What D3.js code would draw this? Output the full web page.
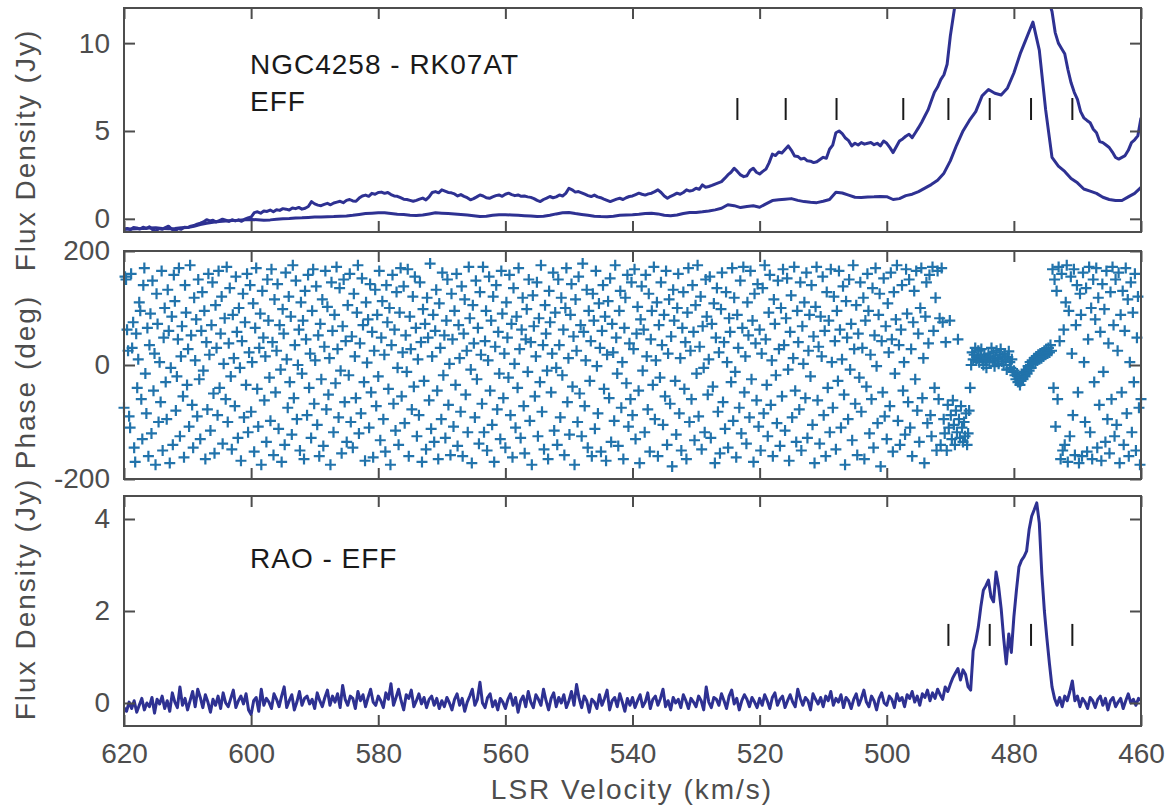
<!DOCTYPE html>
<html lang="en">
	<head>
		<meta charset="utf-8">
		<title>NGC4258 - RK07AT / RAO - EFF</title>
		<script src="https://d3js.org/d3.v7.min.js"></script>
		<style type="text/css">
			body {
				margin: 0;
				background-color: white;
			}
			svg {
				display: block;
				font-family: "Liberation Sans", Arial, Helvetica, sans-serif;
			}
		</style>
	</head>
	<body>
		<script type="text/javascript">

			//Velocity axis (km/s)
			var velTicks = [620, 600, 580, 560, 540, 520, 500, 480, 460];
			var fluxTicks = [0, 5, 10];
			var phaseTicks = [-200, 0, 200];
			var raoTicks = [0, 2, 4];

			//NGC4258 - RK07AT / EFF, upper spectrum, channels every 0.5 km/s from 620
			var upperStart = 620, upperStep = 0.5;
			var fluxUpper = [
				-0.60,-0.55,-0.62,-0.50,-0.52,-0.58,-0.48,-0.55,-0.45,-0.62,-0.70,-0.55,-0.60,-0.50,-0.42,-0.58,-0.72,-0.55,-0.60,-0.48,
				-0.50,-0.42,-0.38,-0.30,-0.25,-0.18,-0.05,-0.12,-0.08,-0.18,-0.10,-0.02,-0.08,-0.15,-0.05,-0.12,-0.06,-0.14,-0.02,0.05,
				0.10,0.35,0.40,0.32,0.45,0.42,0.50,0.40,0.52,0.48,0.58,0.55,0.50,0.62,0.58,0.65,0.55,0.60,0.70,0.98,
				0.85,0.78,0.75,0.82,0.88,0.80,0.90,0.95,1.00,0.92,1.05,1.10,1.02,1.00,1.18,1.30,1.35,1.28,1.45,1.40,
				1.50,1.52,1.45,1.50,1.38,1.30,1.28,1.20,1.12,1.10,1.05,1.00,1.05,1.12,1.18,1.08,1.25,1.50,1.55,1.48,
				1.65,1.58,1.50,1.48,1.42,1.30,1.38,1.28,1.20,1.08,1.15,1.25,1.36,1.30,1.20,1.17,1.25,1.32,1.36,1.28,
				1.40,1.46,1.38,1.32,1.36,1.28,1.30,1.25,1.22,1.15,1.05,0.98,1.10,1.18,1.27,1.20,1.25,1.36,1.30,1.45,
				1.74,1.65,1.52,1.55,1.48,1.40,1.32,1.27,1.35,1.25,1.20,1.12,1.05,0.98,1.05,1.12,1.17,1.10,1.20,1.27,
				1.30,1.38,1.46,1.40,1.35,1.42,1.46,1.55,1.65,1.50,1.30,1.17,1.28,1.36,1.46,1.40,1.50,1.65,1.58,1.62,
				1.74,1.68,1.93,1.80,1.84,1.90,1.98,2.05,2.12,2.30,2.50,2.65,2.88,2.70,2.50,2.40,2.45,2.75,2.88,2.65,
				2.55,2.70,2.83,3.20,3.68,3.60,3.80,3.75,3.95,4.15,3.90,3.58,3.55,3.40,3.45,3.30,3.28,3.20,3.25,3.38,
				3.50,3.45,3.96,4.20,4.90,5.00,4.85,4.60,4.45,4.15,4.30,4.20,4.34,4.25,4.30,4.34,4.22,4.30,4.15,4.43,
				4.30,4.05,3.77,4.10,4.43,4.55,4.70,4.81,4.62,4.90,5.19,5.50,5.85,6.20,6.70,7.20,7.50,7.92,8.20,8.80,
				10.4,11.6,12.8,14.5,16.5,18.5,20.5,22,24,26,28,30,31,32,33,34,35,36,38,40,
				42,44,45,44,40,34,27,22,18,15.5,13.5,12.4,11.8,10.6,10.0,9.7,9.4,8.5,7.74,7.2,
				6.80,6.10,5.75,5.60,5.47,5.10,4.90,4.40,4.34,4.20,4.06,3.80,3.49,3.40,3.50,3.60,3.90,4.34,4.50,4.72,
				5.75
			];

			//lower spectrum, channels every 1 km/s from 620
			var lowerStart = 620, lowerStep = 1;
			var fluxLower = [
				-0.60,-0.58,-0.57,-0.55,-0.52,-0.51,-0.55,-0.57,-0.55,-0.51,
				-0.50,-0.42,-0.32,-0.25,-0.19,-0.15,-0.13,-0.10,-0.08,-0.05,
				-0.04,-0.05,-0.08,-0.06,-0.03,0.00,0.02,0.05,0.06,0.08,
				0.10,0.11,0.12,0.13,0.15,0.16,0.20,0.25,0.30,0.32,
				0.34,0.34,0.30,0.26,0.24,0.20,0.19,0.22,0.28,0.34,
				0.32,0.30,0.28,0.25,0.22,0.18,0.13,0.15,0.20,0.23,
				0.23,0.22,0.20,0.18,0.16,0.13,0.15,0.20,0.28,0.34,
				0.36,0.30,0.25,0.20,0.15,0.13,0.12,0.15,0.20,0.22,
				0.23,0.26,0.30,0.32,0.28,0.20,0.17,0.22,0.30,0.36,
				0.36,0.40,0.45,0.51,0.60,0.80,0.75,0.64,0.70,0.74,
				0.66,0.85,1.04,1.08,1.12,1.15,1.05,0.98,0.94,0.92,
				1.00,1.10,1.51,1.47,1.35,1.23,1.22,1.24,1.25,1.27,
				1.26,1.10,1.15,1.32,1.40,1.55,1.75,1.95,2.20,2.60,
				3.30,4.20,5.00,5.60,6.10,7.00,7.36,7.15,7.05,7.45,
				8.30,9.40,10.30,11.20,9.60,6.20,3.50,3.00,2.70,2.30,
				2.05,1.70,1.58,1.45,1.23,1.10,1.04,1.04,1.25,1.45,
				1.79
			];

			//Phase (deg), channels every 0.16 km/s from 620
			var phaseStart = 620, phaseStep = 0.16;
			var phaseDeg = [
				-75,155,150,62,25,-90,-110,160,30,75,-145,-170,55,-40,10,110,95,-60,-130,140,170,-15,-85,65,-160,
				35,90,-120,148,-45,20,-175,125,72,-100,5,-65,165,-150,48,100,-30,-95,132,60,-172,-5,85,-140,158,
				112,-80,-20,45,170,-125,15,68,-55,-162,140,92,-35,28,-108,175,52,-70,-145,118,8,80,-90,150,-25,
				-130,60,128,-10,95,-165,40,-78,160,18,-115,70,145,-50,-155,105,30,-88,165,-40,55,120,-138,2,82,
				-60,172,-100,38,135,-20,-148,88,12,-72,155,58,-128,100,-5,-168,42,125,-92,75,-35,160,-118,22,140,
				-82,5,108,-152,65,170,-42,-108,30,90,-175,130,48,-62,15,-135,150,78,-22,-98,168,40,-158,115,-48,
				25,142,-112,70,-8,-170,98,55,-140,162,10,-75,120,-30,85,-122,175,-58,35,148,-95,0,62,-150,110,
				-15,78,-165,130,45,-88,158,-40,20,-128,95,168,-68,8,138,-105,52,-160,72,-25,115,-142,32,165,-78,
				102,-52,12,-175,145,60,-118,88,-32,172,28,-92,135,-10,-155,68,150,-65,42,-135,105,-18,160,-100,50,
				-145,125,15,-58,92,175,-120,38,-85,152,70,-30,-168,110,4,80,-110,142,-48,58,-162,25,132,-72,88,
				-20,165,-132,48,112,-95,18,-152,140,75,-42,100,-175,35,158,-68,62,-115,128,-5,-140,92,170,-55,22,
				138,-102,52,-12,168,-160,85,28,-78,120,-38,155,65,-125,10,-88,145,40,-170,98,-28,72,-148,118,48,
				-62,178,-112,15,88,-135,60,132,-45,-165,108,30,-95,162,-18,52,-128,78,150,-70,2,-158,125,45,-108,
				95,-35,160,-142,70,12,-82,138,-160,55,115,-52,25,-118,172,82,-8,-172,105,38,-92,148,-25,65,-138,
				128,18,-68,172,-118,42,95,-150,8,155,-45,78,-105,120,-170,32,140,-78,58,-15,-130,165,90,-58,20,
				-145,110,48,-22,158,-88,72,-162,135,2,-110,85,-40,170,28,-128,62,118,-72,-155,45,98,-12,150,-98,
				40,-175,122,68,-55,15,145,-125,82,-30,175,-82,35,-148,105,55,-10,-165,130,75,-48,20,162,-115,92,
				-5,-140,150,35,-92,118,-18,62,-158,100,170,-65,12,-122,88,142,-38,50,-175,115,25,-100,155,-50,70,
				-125,178,58,-72,8,132,-145,95,-28,42,-160,125,78,-112,165,-2,-85,108,30,-152,60,140,-42,85,-168,
				18,112,-58,152,-135,72,22,-98,175,48,-15,-142,95,130,-75,5,-165,65,118,-32,158,-108,38,-60,145,
				-88,28,168,-130,55,102,-45,-172,80,138,-10,62,-118,158,15,-78,125,-152,45,95,-35,172,-95,8,110,
				-160,70,-22,145,35,-105,88,-55,165,-140,20,115,-68,50,-178,132,78,-28,-122,100,160,-85,12,-150,65,
				128,-42,40,-165,92,170,-100,25,-60,140,58,-132,105,-15,175,-90,32,120,-148,68,-5,-118,150,85,-52,
				10,155,-128,72,-38,108,-172,48,135,-82,22,-155,98,162,-65,40,-112,128,5,-145,82,58,-30,170,-98,
				118,-12,-162,88,30,-75,148,-120,65,172,-48,15,-138,110,52,-92,165,-25,78,-170,125,38,-62,142,-108,
				62,-150,20,135,-85,175,45,-35,-125,92,158,-70,8,-160,115,72,-18,-102,148,28,-142,100,-55,168,35,
				-115,82,152,-8,-168,58,122,-92,12,172,-45,-135,95,40,-78,145,-150,68,2,110,-58,162,-128,25,88,
				-20,140,-105,50,-172,102,172,-62,32,-138,85,15,155,-88,60,-160,128,-40,78,-118,168,5,-75,120,42,
				-148,95,-28,165,62,-110,10,138,-52,-175,112,48,-95,150,-8,72,-132,175,28,-68,105,-158,55,-22,145,
				-82,30,118,-165,78,-38,160,95,-120,18,-60,135,-145,52,170,-2,-102,88,125,-178,42,-48,152,-90,68,
				-130,108,22,-72,162,45,-152,128,-15,80,175,-98,35,-140,62,140,-45,5,-122,168,90,-65,150,-110,28,
				-160,75,130,-25,165,-80,55,-135,100,170,-58,12,-172,85,145,-102,38,158,-88,-125,172,60,-40,118,-150,
				165,-60,82,-140,170,75,-95,-120,40,-150,-70,-110,78,-88,-130,-62,-105,-140,-80,-118,45,-95,-128,-72,-110,
				-135,-100,-125,-85,-140,-120,-80,-40,0,22,10,18,30,8,12,25,5,15,28,10,0,18,8,-5,12,
				20,5,15,30,8,22,-2,12,25,10,2,18,28,6,15,0,20,10,-8,14,24,5,-5,10,-12,
				-10,-18,-25,-15,-30,-22,-35,-28,-18,-25,-12,-20,-8,-15,-2,-10,5,-5,8,2,12,5,15,8,18,
				10,20,12,22,15,25,18,28,20,30,22,35,25,168,-40,150,-108,130,-60,172,42,-165,160,-150,62,
				-140,110,175,-170,95,-125,155,20,-88,168,-158,70,140,-48,-172,125,88,-160,162,5,-100,135,-152,45,172,
				-118,100,-165,150,-30,80,170,-145,118,-70,58,-168,142,-12,98,-135,165,-95,38,-155,128,-60,172,70,-125,
				150,-105,25,162,-172,88,-48,130,-140,60,170,-85,115,-160,5,145,-118,92,-30,160,-150,48,120,-75,-175,
				-60
			];

			//RAO - EFF spectrum, channels every 0.4 km/s from 620
			var raoStart = 620, raoStep = 0.4;
			var raoFlux = [
				-0.10,-0.18,0.02,-0.12,0.05,-0.20,-0.05,0.10,-0.15,0.00,-0.08,0.12,-0.22,0.08,-0.02,0.15,-0.12,0.05,-0.18,0.22,0.02,-0.10,0.35,-0.05,0.10,
				-0.15,0.05,0.25,-0.08,0.30,0.12,-0.10,0.18,0.02,-0.20,0.08,-0.05,0.15,-0.12,0.22,0.00,-0.08,0.10,0.28,-0.10,0.05,0.15,-0.02,0.20,-0.15,
				-0.25,0.05,0.12,-0.18,0.30,-0.05,0.10,0.02,-0.12,0.20,0.08,-0.08,0.15,0.35,-0.10,0.05,0.18,-0.15,0.02,0.25,-0.05,0.10,0.15,-0.02,0.08,
				-0.12,0.22,0.05,-0.08,0.12,0.28,-0.05,0.15,0.02,0.20,-0.10,0.38,0.08,-0.05,0.15,0.10,-0.12,0.25,0.05,0.18,-0.08,0.12,0.30,0.02,-0.05,
				0.15,0.05,-0.10,0.22,0.08,0.42,-0.05,0.12,0.30,0.05,-0.15,0.18,0.10,0.28,-0.08,0.05,0.20,-0.02,0.12,-0.10,0.08,0.15,-0.05,0.10,-0.12,
				0.05,-0.08,0.12,0.00,-0.15,0.08,0.20,-0.05,0.10,-0.18,0.02,0.15,0.30,-0.05,0.08,0.45,0.00,-0.10,0.12,0.20,-0.08,0.05,-0.15,0.10,0.02,
				-0.12,0.08,0.20,-0.05,0.12,-0.20,0.05,0.15,-0.08,0.25,0.02,-0.10,0.18,0.08,-0.05,0.30,0.05,-0.15,0.10,0.22,-0.08,0.12,0.00,0.18,-0.10,
				0.05,0.25,-0.05,0.40,0.10,-0.10,0.15,0.05,-0.20,0.08,0.02,-0.12,0.18,-0.05,0.10,0.28,-0.15,0.05,0.12,-0.08,0.20,0.02,-0.18,0.10,-0.05,
				0.12,-0.10,0.05,0.18,-0.08,0.02,0.22,-0.12,0.08,0.15,-0.05,0.10,0.30,-0.08,0.05,-0.15,0.12,0.00,0.08,-0.10,0.18,0.05,-0.12,0.10,0.02,
				-0.08,0.15,0.05,-0.15,0.35,0.02,-0.10,0.12,0.08,-0.05,0.20,0.05,-0.12,0.15,0.28,-0.02,0.10,-0.15,0.05,0.18,0.08,-0.08,0.12,0.02,-0.10,
				0.10,-0.05,0.18,0.05,-0.12,0.12,0.22,-0.05,0.08,0.15,-0.10,0.05,0.18,0.02,-0.08,0.30,0.10,-0.05,0.12,0.05,-0.15,0.20,0.08,-0.02,0.12,
				-0.08,0.15,0.05,0.25,-0.05,0.10,0.02,0.18,-0.10,0.12,0.05,-0.12,0.08,0.20,-0.05,0.10,0.28,0.02,-0.08,0.15,0.05,-0.15,0.10,0.22,0.00,
				-0.05,0.15,0.08,-0.10,0.20,0.05,0.12,-0.08,0.18,0.10,0.25,0.02,0.15,-0.05,0.20,0.12,0.28,0.05,0.22,0.10,0.30,0.18,0.08,0.35,0.25,
				0.41,0.55,0.65,0.75,0.50,0.72,0.62,0.35,0.28,1.14,1.35,1.65,2.09,2.45,2.55,2.67,2.31,2.20,2.85,2.53,2.05,1.40,0.85,1.50,1.10,
				1.87,2.45,2.96,3.10,3.18,3.30,3.77,4.06,4.20,4.35,3.91,2.80,2.00,1.40,0.85,0.35,0.10,-0.05,0.12,-0.08,0.15,0.05,0.25,0.48,0.05,
				0.15,-0.08,0.10,0.02,-0.12,0.12,0.05,-0.10,0.08,0.15,-0.05,0.10,-0.15,0.05,0.12,-0.08,0.02,0.10,-0.12,0.05,0.20,0.00,0.08,-0.05,0.10,
				0.05
			];

			//Velocity markers
			var markersTop = [523.5, 515.9, 507.9, 497.4, 490.3, 483.8, 477.3, 470.8];
			var markersBottom = [490.3, 483.8, 477.3, 470.8];
			var markerLevelTop = 6.25;
			var markerLevelBottom = 1.48;

			//Width and height
			var w = 1170;
			var h = 812;
			var left = 124, right = 1141;

			var lineColor = "#2e3192";
			var crossColor = "#2173ab";
			var axisColor = "#4d4d4d";

			var x = d3.scaleLinear()
						.domain([620, 460])
						.range([left, right]);

			var svg = d3.select("body")
						.append("svg")
						.attr("width", w)
						.attr("height", h);

			var panels = [
				{ top: 8, bottom: 232, domain: [-0.75, 12], ticks: fluxTicks },
				{ top: 251, bottom: 479, domain: [-200, 200], ticks: phaseTicks },
				{ top: 496, bottom: 726, domain: [-0.5, 4.5], ticks: raoTicks }
			];

			panels.forEach(function(p, i) {
				p.y = d3.scaleLinear().domain(p.domain).range([p.bottom, p.top]);
				svg.append("clipPath")
					.attr("id", "clip" + i)
					.append("rect")
					.attr("x", left)
					.attr("y", p.top)
					.attr("width", right - left)
					.attr("height", p.bottom - p.top);
				p.g = svg.append("g");
				p.clipped = p.g.append("g").attr("clip-path", "url(#clip" + i + ")");
			});

			function spectrum(panel, start, step) {
				return d3.line()
						.x(function(d, i) { return x(start - i * step); })
						.y(function(d) { return panel.y(d); });
			}

			//Top panel: two spectra
			panels[0].clipped.append("path")
				.attr("d", spectrum(panels[0], lowerStart, lowerStep)(fluxLower))
				.attr("fill", "none")
				.attr("stroke", lineColor)
				.attr("stroke-width", 3)
				.attr("stroke-linejoin", "round");

			panels[0].clipped.append("path")
				.attr("d", spectrum(panels[0], upperStart, upperStep)(fluxUpper))
				.attr("fill", "none")
				.attr("stroke", lineColor)
				.attr("stroke-width", 3)
				.attr("stroke-linejoin", "round");

			//Middle panel: phase crosses
			var cs = 5.5;
			panels[1].g.selectAll("path.cross")
				.data(phaseDeg)
				.enter()
				.append("path")
				.attr("class", "cross")
				.attr("d", function(d, i) {
					var cx = x(phaseStart - i * phaseStep);
					var cy = panels[1].y(d);
					return "M" + (cx - cs) + "," + cy + "H" + (cx + cs) +
						"M" + cx + "," + (cy - cs) + "V" + (cy + cs);
				})
				.attr("fill", "none")
				.attr("stroke", crossColor)
				.attr("stroke-width", 2.2);

			//Bottom panel: RAO spectrum
			panels[2].clipped.append("path")
				.attr("d", spectrum(panels[2], raoStart, raoStep)(raoFlux))
				.attr("fill", "none")
				.attr("stroke", lineColor)
				.attr("stroke-width", 3)
				.attr("stroke-linejoin", "round");

			//Markers
			function drawMarkers(panel, vels, level) {
				panel.g.selectAll("line.marker")
					.data(vels)
					.enter()
					.append("line")
					.attr("class", "marker")
					.attr("x1", function(d) { return x(d); })
					.attr("x2", function(d) { return x(d); })
					.attr("y1", panel.y(level) - 11)
					.attr("y2", panel.y(level) + 11)
					.attr("stroke", "#1a1a1a")
					.attr("stroke-width", 2);
			}
			drawMarkers(panels[0], markersTop, markerLevelTop);
			drawMarkers(panels[2], markersBottom, markerLevelBottom);

			//Axes, ticks pointing inward on all four sides
			function styleAxis(g) {
				g.select(".domain").remove();
				g.selectAll(".tick line")
					.attr("stroke", axisColor)
					.attr("stroke-width", 2);
				g.selectAll(".tick text")
					.attr("fill", axisColor)
					.style("font-size", "28px")
					.style("font-family", "'Liberation Sans', Arial, Helvetica, sans-serif");
			}

			panels.forEach(function(p, i) {
				var last = i === panels.length - 1;

				p.g.append("g")
					.attr("transform", "translate(" + left + ",0)")
					.call(d3.axisLeft(p.y).tickValues(p.ticks).tickSize(-11).tickPadding(14)
						.tickFormat(function(d) { return String(d); }))
					.call(styleAxis);

				p.g.append("g")
					.attr("transform", "translate(" + right + ",0)")
					.call(d3.axisRight(p.y).tickValues(p.ticks).tickSize(-11)
						.tickFormat(function() { return ""; }))
					.call(styleAxis);

				p.g.append("g")
					.attr("transform", "translate(0," + p.top + ")")
					.call(d3.axisTop(x).tickValues(velTicks).tickSize(-11)
						.tickFormat(function() { return ""; }))
					.call(styleAxis);

				p.g.append("g")
					.attr("transform", "translate(0," + p.bottom + ")")
					.call(d3.axisBottom(x).tickValues(velTicks).tickSize(-11).tickPadding(17)
						.tickFormat(function(d) { return last ? String(d) : ""; }))
					.call(styleAxis);

				p.g.append("rect")
					.attr("x", left)
					.attr("y", p.top)
					.attr("width", right - left)
					.attr("height", p.bottom - p.top)
					.attr("fill", "none")
					.attr("stroke", axisColor)
					.attr("stroke-width", 2);
			});

			//Axis labels
			svg.append("text")
				.attr("x", 632)
				.attr("y", 799)
				.attr("text-anchor", "middle")
				.attr("fill", axisColor)
				.style("font-size", "28px")
				.style("letter-spacing", "2px")
				.text("LSR Velocity (km/s)");

			var yLabels = [
				{ text: "Flux Density (Jy)", cy: 150 },
				{ text: "Phase (deg)", cy: 382 },
				{ text: "Flux Density (Jy)", cy: 599 }
			];
			svg.selectAll("text.ylabel")
				.data(yLabels)
				.enter()
				.append("text")
				.attr("class", "ylabel")
				.attr("transform", function(d) { return "translate(35," + d.cy + ") rotate(-90)"; })
				.attr("text-anchor", "middle")
				.attr("fill", axisColor)
				.style("font-size", "28px")
				.style("letter-spacing", "2px")
				.text(function(d) { return d.text; });

			//Annotations
			var notes = [
				{ text: "NGC4258 - RK07AT", x: 250, y: 74 },
				{ text: "EFF", x: 250, y: 111 },
				{ text: "RAO - EFF", x: 250, y: 568 }
			];
			svg.selectAll("text.note")
				.data(notes)
				.enter()
				.append("text")
				.attr("class", "note")
				.attr("x", function(d) { return d.x; })
				.attr("y", function(d) { return d.y; })
				.attr("fill", "#1a1a1a")
				.style("font-size", "28px")
				.style("letter-spacing", "1px")
				.text(function(d) { return d.text; });
		</script>
	</body>
</html>
